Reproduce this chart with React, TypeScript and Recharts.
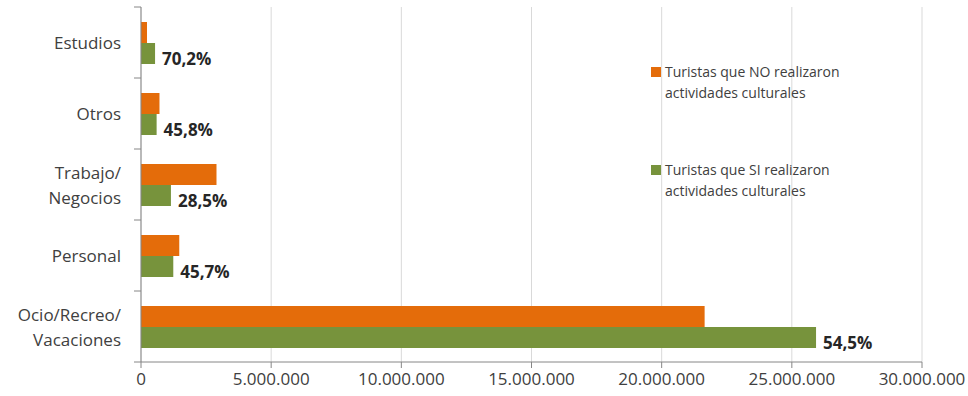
import { Bar, BarChart, CartesianGrid, LabelList, XAxis, YAxis } from "recharts";

const categories = ["Estudios", "Otros", "Trabajo/\nNegocios", "Personal", "Ocio/Recreo/\nVacaciones"];
const noCultural = [230000, 710000, 2900000, 1470000, 21650000];
const siCultural = [540000, 600000, 1150000, 1240000, 25930000];
const pctCultural = ["70,2%", "45,8%", "28,5%", "45,7%", "54,5%"];
const xTicks = [0, 5000000, 10000000, 15000000, 20000000, 25000000, 30000000];

const seriesNames = {
  no: ["Turistas que NO realizaron", "actividades culturales"],
  si: ["Turistas que SI realizaron", "actividades culturales"],
};

const data = categories.map((name, i) => ({
  name,
  no: noCultural[i],
  si: siCultural[i],
  pct: pctCultural[i],
}));

const ORANGE = "#E46C0A";
const GREEN = "#77933C";
const AXIS = "#868686";
const FONT = "'Open Sans', sans-serif";

const WIDTH = 968;
const HEIGHT = 396;
const PLOT_LEFT = 141;
const PLOT_RIGHT = 922;
const PLOT_TOP = 7;
const PLOT_BOTTOM = 362;
const BAND = (PLOT_BOTTOM - PLOT_TOP) / categories.length;

const fmt = (v: number) => String(v).replace(/\B(?=(\d{3})+(?!\d))/g, ".");

// category label plus the boundary tick marks between bands
function CategoryTick(props: any) {
  const { y, payload, index } = props;
  const lines = String(payload.value).split("\n");
  const lineH = 25;
  const top = y - ((lines.length - 1) * lineH) / 2;
  return (
    <g>
      <line x1={PLOT_LEFT - 7} x2={PLOT_LEFT} y1={y - BAND / 2} y2={y - BAND / 2} stroke={AXIS} />
      {index === categories.length - 1 && (
        <line x1={PLOT_LEFT - 7} x2={PLOT_LEFT} y1={y + BAND / 2} y2={y + BAND / 2} stroke={AXIS} />
      )}
      <text x={121} textAnchor="end" fontFamily={FONT} fontSize={17} fill="#404040">
        {lines.map((l, i) => (
          <tspan key={i} x={121} y={top + i * lineH} dominantBaseline="central">
            {l}
          </tspan>
        ))}
      </text>
    </g>
  );
}

function PctLabel(props: any) {
  const { x, y, width, height, value } = props;
  return (
    <text
      x={x + width + 7}
      y={y + height / 2 + 5}
      dominantBaseline="central"
      fontFamily={FONT}
      fontSize={17}
      fontWeight="bold"
      fill="#262626"
    >
      {value}
    </text>
  );
}

function LegendBox() {
  const items = [
    { color: ORANGE, lines: seriesNames.no },
    { color: GREEN, lines: seriesNames.si },
  ];
  return (
    <div
      style={{
        position: "absolute",
        left: 651,
        top: 61,
        fontFamily: FONT,
        fontSize: 14,
        color: "#404040",
        lineHeight: "21px",
      }}
    >
      {items.map((it, i) => (
        <div key={i} style={{ display: "flex", alignItems: "flex-start", marginBottom: i === 0 ? 56 : 0 }}>
          <span
            style={{ width: 10, height: 10, background: it.color, marginTop: 6, marginRight: 4, flexShrink: 0 }}
          />
          <div>
            {it.lines.map((l) => (
              <div key={l}>{l}</div>
            ))}
          </div>
        </div>
      ))}
    </div>
  );
}

export default function App() {
  return (
    <div style={{ position: "absolute", left: 0, top: 0, width: WIDTH, height: HEIGHT, background: "#fff" }}>
      <BarChart
        width={WIDTH}
        height={HEIGHT}
        data={data}
        layout="vertical"
        margin={{ top: PLOT_TOP, right: WIDTH - PLOT_RIGHT, bottom: 0, left: 0 }}
        barGap={0}
      >
        <CartesianGrid horizontal={false} stroke="#D9D9D9" />
        <XAxis
          type="number"
          domain={[0, 30000000]}
          ticks={xTicks}
          tickFormatter={fmt}
          stroke={AXIS}
          tickSize={6}
          height={HEIGHT - PLOT_BOTTOM}
          tick={{ fill: "#404040", fontFamily: FONT, fontSize: 17, dy: 3 }}
        />
        <YAxis
          type="category"
          dataKey="name"
          width={PLOT_LEFT}
          stroke={AXIS}
          tickLine={false}
          tick={<CategoryTick />}
          interval={0}
        />
        <Bar dataKey="no" fill={ORANGE} barSize={21} isAnimationActive={false} />
        <Bar dataKey="si" fill={GREEN} barSize={21} isAnimationActive={false}>
          <LabelList dataKey="pct" content={<PctLabel />} />
        </Bar>
      </BarChart>
      <LegendBox />
    </div>
  );
}
